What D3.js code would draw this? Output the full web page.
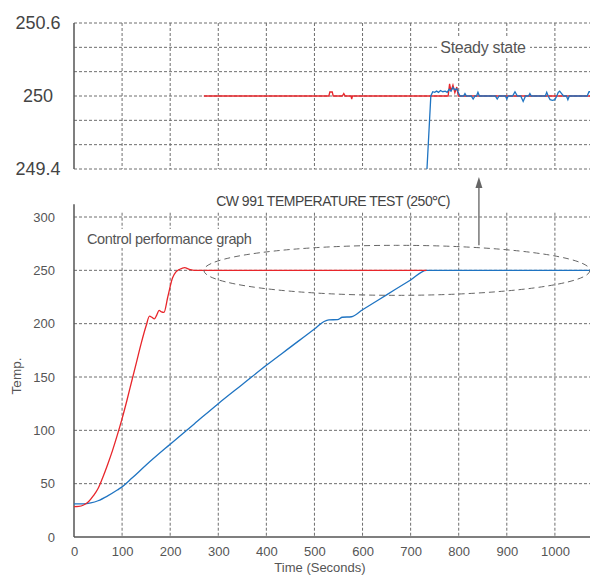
<!DOCTYPE html>
<html>
<head>
<meta charset="utf-8">
<script src="https://cdn.jsdelivr.net/npm/d3@7"></script>
<style>
  body { margin: 0; background: #fff; }
  svg { display: block; font-family: "Liberation Sans", Arial, sans-serif; }
</style>
</head>
<body>
<div id="chart"></div>
<script>
// Tick values
const xTicks = [0, 100, 200, 300, 400, 500, 600, 700, 800, 900, 1000];
const yTicks = [0, 50, 100, 150, 200, 250, 300];
const zoomTicks = [249.4, 250, 250.6];
const zoomGrid = [249.4, 249.6, 249.8, 250, 250.2, 250.4, 250.6];

// Full run: [seconds, temp]
const redRamp = [
  [0, 28.5], [10, 28.7], [20, 30], [30, 33], [40, 38.5], [50, 45.5], [55, 50.5],
  [60, 56], [70, 68], [80, 81], [90, 95.5], [100, 111], [110, 128], [120, 146],
  [130, 164], [140, 182], [150, 198], [157, 207], [162, 206], [167, 204.5],
  [172, 208], [177, 212.5], [182, 211], [187, 210.5], [195, 225], [205, 243],
  [212, 248.5], [220, 251], [230, 252.5], [240, 251], [250, 250], [733, 250]
];
const blueRamp = [
  [0, 31], [20, 31], [35, 32], [50, 34], [70, 38.5], [90, 44], [100, 47],
  [120, 55], [150, 67.5], [200, 87], [250, 106], [300, 125], [350, 143],
  [400, 161], [450, 178], [500, 195], [520, 202], [530, 203.5], [548, 203.8],
  [558, 206], [577, 206.5], [600, 213], [650, 227], [700, 241], [733, 250],
  [1073, 250]
];

// Steady state detail: [seconds, temp]
const redSteady = [
  [270, 250], [530, 250], [532, 250.033], [537, 250.033], [539, 250],
  [558, 250], [561, 250.02], [564, 250], [576, 250], [577.5, 249.975], [579, 250],
  [778, 250], [781, 250.1], [784, 250.04], [788, 250.09], [792, 250.027],
  [796, 250.074], [799, 250], [1073, 250]
];
const blueSteady = [
  [734, 249.4], [742, 250], [746, 250.035], [750, 250.03], [754, 250.04],
  [758, 250.03], [762, 250.045], [767, 250.035], [772, 250.04], [776, 250.03],
  [780, 250.055], [784, 250.04], [788, 250.07], [792, 250.05], [796, 250.06],
  [800, 250.02], [803, 250], [810, 250], [813, 250.02], [816, 250], [826, 250],
  [830, 249.975], [834, 250], [837, 250], [840, 250.03], [843, 250], [876, 250],
  [880, 249.975], [884, 250], [897, 250], [900, 249.975], [903, 250], [912, 250],
  [917, 250.035], [922, 250], [929, 250], [934, 249.955], [939, 250], [945, 250],
  [948, 250.02], [951, 250], [980, 250], [983, 250.03], [986, 250], [990, 249.97],
  [995, 249.965], [1000, 249.97], [1004, 250], [1007, 250.03], [1010, 250.04],
  [1014, 250.02], [1018, 250], [1024, 250], [1027, 249.97], [1030, 250],
  [1067, 250], [1071, 250.035], [1073, 250.035]
];

const W = 590, H = 576;
const RED = "#e8262b", BLUE = "#1f74c2";
const GRID = "#6e6e6e", AXIS = "#555", TEXT = "#555";

const svg = d3.select("#chart").append("svg")
  .attr("width", W).attr("height", H);

const x = d3.scaleLinear().domain([0, 1073]).range([74, 590]);
const y = d3.scaleLinear().domain([0, 300]).range([537, 217]);
const yz = d3.scaleLinear().domain([249.4, 250.6]).range([169, 23]);

svg.append("defs").append("clipPath").attr("id", "clipTop")
  .append("rect").attr("x", 74).attr("y", 23).attr("width", 516).attr("height", 146);

const dash = g => g.attr("stroke", GRID).attr("stroke-width", 1).attr("stroke-dasharray", "3,2");

// ---------- top panel (zoomed steady state) ----------
const topG = svg.append("g");
topG.append("g").selectAll("line").data(zoomGrid).enter().append("line")
  .attr("x1", 74).attr("x2", 590)
  .attr("y1", d => yz(d)).attr("y2", d => yz(d))
  .call(dash);
topG.append("g").selectAll("line").data(xTicks.slice(1)).enter().append("line")
  .attr("x1", d => x(d)).attr("x2", d => x(d))
  .attr("y1", yz(250.6)).attr("y2", yz(249.4))
  .call(dash);
topG.append("line")
  .attr("x1", 74).attr("x2", 74).attr("y1", yz(250.6)).attr("y2", yz(249.4))
  .attr("stroke", AXIS).attr("stroke-width", 1.5);

topG.selectAll("text.zt").data(zoomTicks).enter().append("text")
  .attr("class", "zt")
  .attr("x", 38).attr("y", d => yz(d)).attr("dy", "0.36em")
  .attr("text-anchor", "middle")
  .attr("font-size", 18).attr("fill", "#444")
  .text(d => d);

const lineZ = d3.line().x(d => x(d[0])).y(d => yz(d[1]));
const clipped = topG.append("g").attr("clip-path", "url(#clipTop)");
clipped.append("path").datum(redSteady).attr("d", lineZ)
  .attr("fill", "none").attr("stroke", RED).attr("stroke-width", 1.3);
clipped.append("path").datum(blueSteady).attr("d", lineZ)
  .attr("fill", "none").attr("stroke", BLUE).attr("stroke-width", 1.3);

// Steady state label with white backing
topG.append("rect").attr("x", 437).attr("y", 37).attr("width", 93).attr("height", 20).attr("fill", "#fff");
topG.append("text").attr("x", 483).attr("y", 52.5).attr("text-anchor", "middle")
  .attr("font-size", 16).attr("letter-spacing", -0.3).attr("fill", TEXT)
  .text("Steady state");

// ---------- bottom panel ----------
const bot = svg.append("g");
bot.append("g").selectAll("line").data(yTicks.slice(1)).enter().append("line")
  .attr("x1", 74).attr("x2", 590)
  .attr("y1", d => y(d)).attr("y2", d => y(d))
  .call(dash);
bot.append("g").selectAll("line").data(xTicks.slice(1)).enter().append("line")
  .attr("x1", d => x(d)).attr("x2", d => x(d))
  .attr("y1", y(304)).attr("y2", y(0))
  .call(dash);

// axes
const xAxis = d3.axisBottom(x).tickValues(xTicks).tickFormat(d3.format("d"))
  .tickSize(0).tickPadding(10);
bot.append("g").attr("transform", `translate(0,${y(0)})`).call(xAxis)
  .call(g => g.select(".domain").attr("stroke", AXIS).attr("stroke-width", 1.5)
    .attr("d", `M74,0H590`))
  .call(g => g.selectAll("text").attr("font-size", 13).attr("fill", TEXT)
    .attr("font-family", "Liberation Sans, Arial, sans-serif"));
const yAxis = d3.axisLeft(y).tickValues(yTicks).tickSize(0).tickPadding(19);
bot.append("g").attr("transform", `translate(74,0)`).call(yAxis)
  .call(g => g.select(".domain").attr("stroke", AXIS).attr("stroke-width", 1.5)
    .attr("d", `M0,${y(312)}V${y(0)}`))
  .call(g => g.selectAll("text").attr("font-size", 13).attr("fill", TEXT)
    .attr("font-family", "Liberation Sans, Arial, sans-serif"));

bot.append("text").attr("x", 320).attr("y", 572).attr("text-anchor", "middle")
  .attr("font-size", 13).attr("fill", TEXT).text("Time (Seconds)");
bot.append("text").attr("transform", `translate(21,376) rotate(-90)`)
  .attr("text-anchor", "middle").attr("font-size", 13.5).attr("fill", TEXT)
  .text("Temp.");

// Control performance label with white backing
bot.append("rect").attr("x", 84).attr("y", 229).attr("width", 172).attr("height", 19).attr("fill", "#fff");
bot.append("text").attr("x", 87).attr("y", 243.5)
  .attr("font-size", 14.5).attr("letter-spacing", -0.35).attr("fill", TEXT)
  .text("Control performance graph");

// title
bot.append("text").attr("x", 333).attr("y", 206).attr("text-anchor", "middle")
  .attr("font-size", 14).attr("letter-spacing", -0.5).attr("fill", "#444")
  .text("CW 991 TEMPERATURE TEST (250℃)");

// curves
const line = d3.line().x(d => x(d[0])).y(d => y(d[1])).curve(d3.curveMonotoneX);
bot.append("path").datum(blueRamp).attr("d", line)
  .attr("fill", "none").attr("stroke", BLUE).attr("stroke-width", 1.3);
bot.append("path").datum(redRamp).attr("d", line)
  .attr("fill", "none").attr("stroke", RED).attr("stroke-width", 1.3);

// dashed ellipse around steady section + arrow to top panel
const ex0 = x(270), ex1 = x(1073);
bot.append("ellipse")
  .attr("cx", (ex0 + ex1) / 2).attr("cy", y(250))
  .attr("rx", (ex1 - ex0) / 2).attr("ry", 25)
  .attr("fill", "none").attr("stroke", "#666").attr("stroke-width", 1)
  .attr("stroke-dasharray", "6,4");

const ax = x(842);
bot.append("line").attr("x1", ax).attr("x2", ax)
  .attr("y1", y(250) - 25).attr("y2", 186)
  .attr("stroke", "#777").attr("stroke-width", 1.5);
bot.append("path")
  .attr("d", `M${ax},177L${ax - 3.5},188L${ax + 3.5},188Z`)
  .attr("fill", "#666");
</script>
</body>
</html>
